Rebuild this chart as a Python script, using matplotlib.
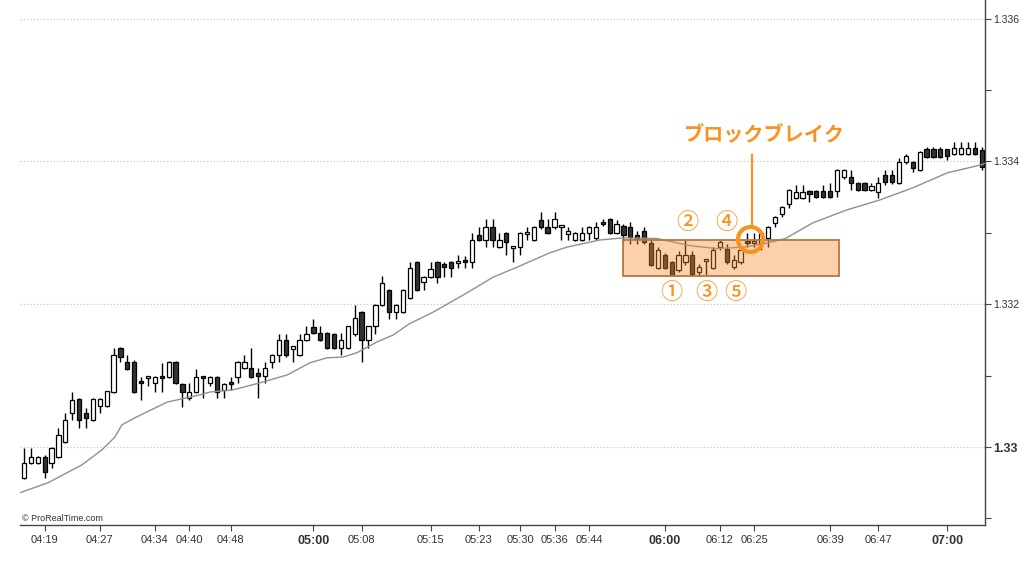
import matplotlib
matplotlib.use("Agg")
import matplotlib.pyplot as plt
from matplotlib.patches import Rectangle

plt.rcParams['font.family'] = ['Liberation Sans', 'Noto Sans CJK JP', 'DejaVu Sans']

# --- candle data (1-minute bars, EUR/USD style prices) ---
opens = [
    1.32957, 1.32978, 1.32978, 1.32986, 1.32978, 1.32986, 1.33007, 1.33048, 1.33067, 1.33048,
    1.33038, 1.33057, 1.33057, 1.33077, 1.33139, 1.33119, 1.33119, 1.33092, 1.33096, 1.33090,
    1.33099, 1.33098, 1.33119, 1.33088, 1.33069, 1.33077, 1.33098, 1.33090, 1.33098, 1.33080,
    1.33090, 1.33098, 1.33111, 1.33111, 1.33102, 1.33100, 1.33119, 1.33129, 1.33150, 1.33138,
    1.33129, 1.33150, 1.33168, 1.33160, 1.33160, 1.33158, 1.33139, 1.33139, 1.33158, 1.33189,
    1.33150, 1.33169, 1.33199, 1.33220, 1.33189, 1.33189, 1.33209, 1.33259, 1.33231, 1.33238,
    1.33259, 1.33256, 1.33259, 1.33258, 1.33260, 1.33259, 1.33297, 1.33290, 1.33308, 1.33280,
    1.33300, 1.33279, 1.33280, 1.33298, 1.33290, 1.33318, 1.33308, 1.33308, 1.33308, 1.33299,
    1.33290, 1.33290, 1.33300, 1.33293, 1.33314, 1.33320, 1.33300, 1.33310, 1.33308, 1.33297,
    1.33303, 1.33286, 1.33251, 1.33269, 1.33259, 1.33248, 1.33259, 1.33269, 1.33245, 1.33260,
    1.33251, 1.33280, 1.33278, 1.33252, 1.33259, 1.33289, 1.33286, 1.33286, 1.33293, 1.33314,
    1.33326, 1.33340, 1.33349, 1.33349, 1.33358, 1.33358, 1.33358, 1.33358, 1.33358, 1.33378,
    1.33378, 1.33370, 1.33370, 1.33360, 1.33357, 1.33381, 1.33381, 1.33370, 1.33399, 1.33399,
    1.33388, 1.33417, 1.33417, 1.33417, 1.33417, 1.33410, 1.33410, 1.33410, 1.33419, 1.33416,
]
highs = [
    1.32999, 1.32999, 1.32988, 1.32989, 1.33000, 1.33027, 1.33048, 1.33077, 1.33069, 1.33055,
    1.33069, 1.33069, 1.33079, 1.33139, 1.33140, 1.33129, 1.33122, 1.33098, 1.33098, 1.33099,
    1.33118, 1.33121, 1.33121, 1.33089, 1.33090, 1.33109, 1.33098, 1.33099, 1.33099, 1.33090,
    1.33098, 1.33120, 1.33129, 1.33139, 1.33111, 1.33119, 1.33130, 1.33158, 1.33158, 1.33140,
    1.33158, 1.33169, 1.33179, 1.33169, 1.33161, 1.33160, 1.33160, 1.33170, 1.33199, 1.33190,
    1.33170, 1.33200, 1.33240, 1.33222, 1.33200, 1.33221, 1.33259, 1.33260, 1.33240, 1.33259,
    1.33260, 1.33259, 1.33260, 1.33269, 1.33268, 1.33300, 1.33308, 1.33319, 1.33319, 1.33300,
    1.33301, 1.33281, 1.33301, 1.33308, 1.33309, 1.33329, 1.33320, 1.33329, 1.33310, 1.33308,
    1.33301, 1.33308, 1.33309, 1.33315, 1.33320, 1.33321, 1.33318, 1.33312, 1.33315, 1.33302,
    1.33308, 1.33290, 1.33280, 1.33272, 1.33260, 1.33274, 1.33290, 1.33274, 1.33257, 1.33263,
    1.33280, 1.33290, 1.33285, 1.33269, 1.33280, 1.33300, 1.33300, 1.33302, 1.33310, 1.33324,
    1.33338, 1.33362, 1.33367, 1.33367, 1.33360, 1.33360, 1.33367, 1.33370, 1.33390, 1.33389,
    1.33388, 1.33371, 1.33371, 1.33370, 1.33378, 1.33388, 1.33388, 1.33405, 1.33410, 1.33400,
    1.33414, 1.33420, 1.33420, 1.33420, 1.33418, 1.33427, 1.33427, 1.33427, 1.33427, 1.33420,
]
lows = [
    1.32955, 1.32976, 1.32976, 1.32957, 1.32971, 1.32984, 1.33005, 1.33038, 1.33027, 1.33027,
    1.33036, 1.33048, 1.33056, 1.33075, 1.33119, 1.33108, 1.33075, 1.33066, 1.33086, 1.33077,
    1.33077, 1.33096, 1.33088, 1.33056, 1.33066, 1.33075, 1.33069, 1.33086, 1.33069, 1.33069,
    1.33080, 1.33090, 1.33109, 1.33096, 1.33069, 1.33090, 1.33111, 1.33119, 1.33126, 1.33119,
    1.33127, 1.33148, 1.33158, 1.33148, 1.33138, 1.33137, 1.33129, 1.33138, 1.33156, 1.33119,
    1.33139, 1.33158, 1.33198, 1.33179, 1.33179, 1.33188, 1.33207, 1.33218, 1.33220, 1.33237,
    1.33230, 1.33238, 1.33238, 1.33251, 1.33251, 1.33251, 1.33289, 1.33280, 1.33280, 1.33279,
    1.33269, 1.33259, 1.33269, 1.33290, 1.33289, 1.33306, 1.33298, 1.33306, 1.33290, 1.33290,
    1.33289, 1.33289, 1.33290, 1.33290, 1.33310, 1.33298, 1.33298, 1.33287, 1.33285, 1.33285,
    1.33285, 1.33253, 1.33250, 1.33249, 1.33239, 1.33245, 1.33255, 1.33239, 1.33241, 1.33241,
    1.33249, 1.33276, 1.33256, 1.33250, 1.33257, 1.33280, 1.33280, 1.33276, 1.33280, 1.33308,
    1.33322, 1.33335, 1.33347, 1.33347, 1.33343, 1.33349, 1.33349, 1.33349, 1.33350, 1.33376,
    1.33360, 1.33359, 1.33359, 1.33359, 1.33349, 1.33367, 1.33369, 1.33368, 1.33397, 1.33385,
    1.33387, 1.33405, 1.33405, 1.33405, 1.33402, 1.33409, 1.33409, 1.33409, 1.33409, 1.33388,
]
closes = [
    1.32978, 1.32986, 1.32986, 1.32965, 1.32999, 1.33017, 1.33038, 1.33066, 1.33038, 1.33041,
    1.33067, 1.33067, 1.33078, 1.33129, 1.33126, 1.33109, 1.33077, 1.33090, 1.33098, 1.33098,
    1.33096, 1.33119, 1.33090, 1.33077, 1.33077, 1.33098, 1.33096, 1.33098, 1.33077, 1.33088,
    1.33088, 1.33119, 1.33119, 1.33098, 1.33100, 1.33111, 1.33129, 1.33150, 1.33129, 1.33139,
    1.33150, 1.33158, 1.33160, 1.33150, 1.33139, 1.33139, 1.33150, 1.33169, 1.33181, 1.33150,
    1.33169, 1.33199, 1.33230, 1.33189, 1.33199, 1.33220, 1.33251, 1.33220, 1.33238, 1.33249,
    1.33238, 1.33252, 1.33251, 1.33260, 1.33259, 1.33290, 1.33290, 1.33308, 1.33290, 1.33290,
    1.33287, 1.33280, 1.33300, 1.33300, 1.33308, 1.33308, 1.33300, 1.33320, 1.33309, 1.33300,
    1.33300, 1.33300, 1.33308, 1.33308, 1.33312, 1.33300, 1.33312, 1.33297, 1.33294, 1.33292,
    1.33287, 1.33255, 1.33276, 1.33251, 1.33241, 1.33269, 1.33269, 1.33243, 1.33252, 1.33262,
    1.33276, 1.33287, 1.33259, 1.33262, 1.33276, 1.33286, 1.33289, 1.33300, 1.33308, 1.33322,
    1.33336, 1.33360, 1.33357, 1.33357, 1.33354, 1.33350, 1.33350, 1.33350, 1.33388, 1.33388,
    1.33370, 1.33360, 1.33360, 1.33365, 1.33370, 1.33371, 1.33371, 1.33399, 1.33408, 1.33391,
    1.33413, 1.33406, 1.33406, 1.33406, 1.33408, 1.33419, 1.33419, 1.33419, 1.33410, 1.33392,
]

# moving average (bar index, price)
ma_idx = [-0.6, 3.5, 8.4, 11.3, 13.2, 14.2, 16.1, 20.8, 25.5, 27.0, 30.3, 34.3, 38.2, 41.5,
          44.0, 46.3, 48.3, 51.2, 53.6, 56.0, 59.4, 64.3, 68.1, 71.6, 76.3, 78.8, 83.6, 87.0,
          91.9, 96.7, 100.5, 104.5, 108.0, 110.5, 114.5, 119.4, 124.2, 129.0, 134.0, 138.8, 139.4]
ma_val = [1.32936, 1.32950, 1.32975, 1.32996, 1.33014, 1.33031, 1.33041, 1.33063, 1.33073,
          1.33077, 1.33080, 1.33090, 1.33101, 1.33118, 1.33125, 1.33126, 1.33132, 1.33147,
          1.33157, 1.33173, 1.33189, 1.33216, 1.33238, 1.33252, 1.33272, 1.33280, 1.33290,
          1.33293, 1.33292, 1.33282, 1.33278, 1.33280, 1.33286, 1.33292, 1.33314, 1.33332,
          1.33346, 1.33363, 1.33384, 1.33395, 1.33397]

# time axis labels (bar index where each label sits)
tick_pos = [3, 11, 19, 24, 30, 42, 49, 59, 66, 72, 77, 82, 93, 101, 106, 117, 124, 134]
tick_lbl = ["04:19", "04:27", "04:34", "04:40", "04:48", "05:00", "05:08", "05:15", "05:23",
            "05:30", "05:36", "05:44", "06:00", "06:12", "06:25", "06:39", "06:47", "07:00"]
bold_lbl = ["05:00", "06:00", "07:00"]

price_ticks = [1.330, 1.332, 1.334, 1.336]
price_lbls = ["1.33", "1.332", "1.334", "1.336"]

ORANGE = '#F7931E'

fig = plt.figure(figsize=(10.24, 5.68), dpi=100)
ax = fig.add_axes([20 / 1024, 43 / 568, 965 / 1024, 525 / 568])

x = list(range(len(opens)))
up = [c >= o for o, c in zip(opens, closes)]
bottoms = [min(o, c) for o, c in zip(opens, closes)]
heights = [max(abs(c - o), 0.00003) for o, c in zip(opens, closes)]
fills = ['white' if u else '#333333' for u in up]

# wicks then bodies
ax.vlines(x, lows, highs, color='black', linewidth=1.0, zorder=2)
ax.bar(x, heights, bottom=bottoms, width=0.62, color=fills, edgecolor='black',
       linewidth=0.9, zorder=3)

# moving average
ax.plot(ma_idx, ma_val, color='#909090', linewidth=1.0, zorder=4)

# block range box
ax.add_patch(Rectangle((87, 1.33239), 31.3, 0.00051, facecolor='#F58C32', alpha=0.4,
                       edgecolor='none', zorder=5))
ax.add_patch(Rectangle((87, 1.33239), 31.3, 0.00051, facecolor='none',
                       edgecolor='#B8763A', linewidth=1.3, zorder=5))

# breakout marker and label
ax.plot([105.4], [1.33292], 'o', markersize=18, markerfacecolor='none',
        markeredgecolor=ORANGE, markeredgewidth=3, zorder=6)
ax.plot([105.6, 105.6], [1.33311, 1.33409], color=ORANGE, linewidth=1.6, zorder=6)
ax.text(107.5, 1.33438, "ブロックブレイク", color=ORANGE, fontsize=14.5, fontweight='bold',
        ha='center', va='center', family=['Noto Sans CJK JP', 'DejaVu Sans'])

nums = ["②", "④", "①", "③", "⑤"]
num_x = [96.3, 101.9, 93.9, 99.0, 103.3]
num_y = [1.33314, 1.33314, 1.33216, 1.33216, 1.33216]
for s, nx, ny in zip(nums, num_x, num_y):
    ax.text(nx, ny, s, color=ORANGE, fontsize=16, fontweight='medium', ha='center',
            va='center', family=['Noto Sans CJK JP', 'DejaVu Sans'])

ax.text(0.002, 0.004, "© ProRealTime.com", transform=ax.transAxes, fontsize=6.5,
        color='#333333', va='bottom', ha='left')

ax.set_xlim(-0.58, 139.48)
ax.set_ylim(1.328908, 1.336261)

# axes styling
for side in ['left', 'top']:
    ax.spines[side].set_visible(False)
for side in ['right', 'bottom']:
    ax.spines[side].set_color('#444444')
    ax.spines[side].set_linewidth(1.0)

ax.yaxis.tick_right()
ax.set_yticks(price_ticks)
ax.set_yticklabels(price_lbls)
ax.set_yticks([1.329, 1.331, 1.333, 1.335], minor=True)
ax.tick_params(axis='y', which='both', direction='out', length=4, width=0.8,
               color='#444444', labelsize=7.5, labelcolor='#333333', pad=2)
for t in ax.get_yticklabels():
    if t.get_text() == "1.33":
        t.set_fontweight('bold')
        t.set_fontsize(9)

ax.set_xticks(tick_pos)
ax.set_xticklabels(tick_lbl)
ax.tick_params(axis='x', direction='out', length=4, width=0.8, color='#444444',
               labelsize=8, labelcolor='#333333', pad=3)
for t in ax.get_xticklabels():
    if t.get_text() in bold_lbl:
        t.set_fontweight('bold')
        t.set_fontsize(9)

ax.yaxis.grid(True, which='major', linestyle=(0, (1, 2)), color='#bdbdbd', linewidth=0.8)
ax.set_axisbelow(True)

fig.savefig("out.png", dpi=100, facecolor='white')
